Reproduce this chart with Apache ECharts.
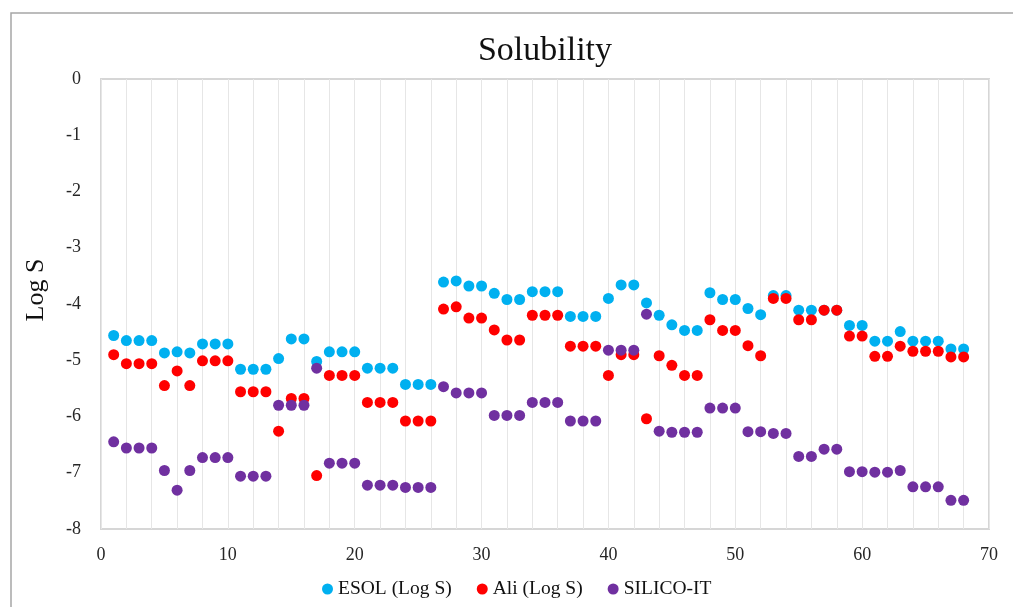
<!DOCTYPE html>
<html>
<head>
<meta charset="utf-8">
<title>Solubility</title>
<script src="https://cdn.jsdelivr.net/npm/echarts@6/dist/echarts.min.js"></script>
<style>
  html, body { margin: 0; padding: 0; background: #ffffff; }
  #chart { width: 1013px; height: 607px; }
</style>
</head>
<body>
<div id="chart"></div>
<script>
// Predicted log solubility for 68 compounds, three methods
const esolLogS = [
  -4.56, -4.65, -4.65, -4.65, -4.87, -4.85, -4.87, -4.71, -4.71, -4.71,
  -5.16, -5.16, -5.16, -4.97, -4.62, -4.62, -5.02, -4.85, -4.85, -4.85,
  -5.14, -5.14, -5.14, -5.43, -5.43, -5.43, -3.61, -3.59, -3.68, -3.68,
  -3.81, -3.92, -3.92, -3.78, -3.78, -3.78, -4.22, -4.22, -4.22, -3.90,
  -3.66, -3.66, -3.98, -4.20, -4.37, -4.47, -4.47, -3.80, -3.92, -3.92,
  -4.08, -4.19, -3.85, -3.85, -4.11, -4.11, -4.11, -4.11, -4.38, -4.38,
  -4.66, -4.66, -4.49, -4.66, -4.66, -4.66, -4.80, -4.80
];
const aliLogS = [
  -4.90, -5.06, -5.06, -5.06, -5.45, -5.19, -5.45, -5.01, -5.01, -5.01,
  -5.56, -5.56, -5.56, -6.26, -5.68, -5.68, -7.05, -5.27, -5.27, -5.27,
  -5.75, -5.75, -5.75, -6.08, -6.08, -6.08, -4.09, -4.05, -4.25, -4.25,
  -4.46, -4.64, -4.64, -4.20, -4.20, -4.20, -4.75, -4.75, -4.75, -5.27,
  -4.90, -4.90, -6.04, -4.92, -5.09, -5.27, -5.27, -4.28, -4.47, -4.47,
  -4.74, -4.92, -3.90, -3.90, -4.28, -4.28, -4.11, -4.11, -4.57, -4.57,
  -4.93, -4.93, -4.75, -4.84, -4.84, -4.84, -4.94, -4.94
];
const silicoIt = [
  -6.45, -6.56, -6.56, -6.56, -6.96, -7.31, -6.96, -6.73, -6.73, -6.73,
  -7.06, -7.06, -7.06, -5.80, -5.80, -5.80, -5.14, -6.83, -6.83, -6.83,
  -7.22, -7.22, -7.22, -7.26, -7.26, -7.26, -5.47, -5.58, -5.58, -5.58,
  -5.98, -5.98, -5.98, -5.75, -5.75, -5.75, -6.08, -6.08, -6.08, -4.82,
  -4.82, -4.82, -4.18, -6.26, -6.28, -6.28, -6.28, -5.85, -5.85, -5.85,
  -6.27, -6.27, -6.30, -6.30, -6.71, -6.71, -6.58, -6.58, -6.98, -6.98,
  -6.99, -6.99, -6.96, -7.25, -7.25, -7.25, -7.49, -7.49
];

const seriesNames = ['ESOL (Log S)', 'Ali (Log S)', 'SILICO-IT'];
const seriesColors = ['#00b0f0', '#ff0000', '#7030a0'];

// compound number runs 1..68 along x
const toPoints = (vals) => vals.map((v, i) => [i + 1, v]);

const serif = 'Liberation Serif';
const chart = echarts.init(document.getElementById('chart'));

chart.setOption({
  backgroundColor: '#ffffff',
  animation: false,
  title: {
    text: 'Solubility',
    left: 540,
    top: 29,
    textAlign: 'center',
    textStyle: { fontFamily: serif, fontSize: 34, fontWeight: 'normal', color: '#111111' }
  },
  graphic: [{
    type: 'rect',
    z: -10,
    shape: { x: 11, y: 13, width: 1100, height: 700 },
    style: { fill: 'none', stroke: '#a6a6a6', lineWidth: 1.5 }
  }],
  legend: {
    data: seriesNames,
    left: 317,
    top: 574,
    icon: 'circle',
    itemWidth: 11,
    itemHeight: 11,
    itemGap: 25,
    textStyle: { fontFamily: serif, fontSize: 19.5, color: '#111111' }
  },
  grid: {
    left: 101, right: 24, top: 79, bottom: 78,
    show: true,
    borderColor: '#d6d6d6',
    borderWidth: 2,
    containLabel: false
  },
  xAxis: {
    type: 'value',
    min: 0, max: 70, interval: 10,
    axisLine: { show: false },
    axisTick: { show: false },
    axisLabel: { margin: 17, fontFamily: serif, fontSize: 18, color: '#262626' },
    splitLine: { show: true, lineStyle: { color: '#e6e6e6', width: 1 } },
    minorTick: { show: true, splitNumber: 5, length: 0 },
    minorSplitLine: { show: true, lineStyle: { color: '#e6e6e6', width: 1 } }
  },
  yAxis: {
    type: 'value',
    min: -8, max: 0, interval: 1,
    name: 'Log S',
    nameLocation: 'middle',
    nameRotate: 90,
    nameGap: 52,
    nameTextStyle: { fontFamily: serif, fontSize: 26, color: '#111111', padding: [0, 0, 0, 28] },
    axisLine: { show: false },
    axisTick: { show: false },
    axisLabel: { margin: 20, fontFamily: serif, fontSize: 18, color: '#262626' },
    splitLine: { show: false }
  },
  series: [esolLogS, aliLogS, silicoIt].map((vals, k) => ({
    name: seriesNames[k],
    type: 'scatter',
    symbol: 'circle',
    symbolSize: 11,
    itemStyle: { color: seriesColors[k], opacity: 1 },
    data: toPoints(vals)
  }))
});
</script>
</body>
</html>
